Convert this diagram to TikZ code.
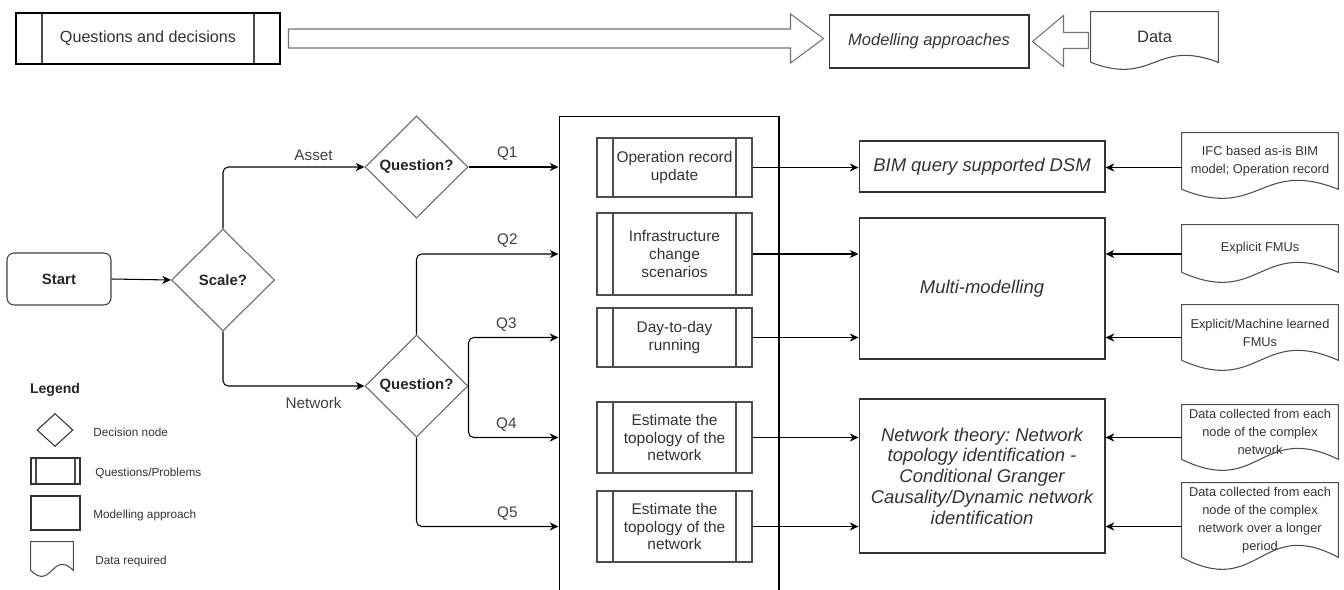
\documentclass[tikz,border=0pt]{standalone}
\usepackage{fontspec}
\setmainfont{Liberation Sans}
\usetikzlibrary{shapes.geometric,arrows.meta}
\frenchspacing

\begin{document}
\begin{tikzpicture}
[x=0.02cm, y=-0.02cm,
  lineDecorate/.style={line width=0.6pt},%
  arrowDecorate/.style={lineDecorate,-{Stealth[length=5pt,width=4.6pt]},rounded corners=3pt},%
  blockDecorate/.style={draw=black!55,lineDecorate,line join=miter},%
  startDecorate/.style={shape=rectangle,draw=black!75,lineDecorate,rounded corners=4pt,
    minimum width=2.08cm,minimum height=1.04cm,text=black!85,font=\fontsize{8.5}{10}\selectfont\bfseries},%
  decisionDecorate/.style={shape=diamond,draw=black!60,lineDecorate,inner sep=0pt,
    minimum width=2.06cm,minimum height=2.04cm,text=black!85,font=\fontsize{8.5}{10}\selectfont\bfseries},%
  questionDecorate/.style={shape=rectangle,draw=black!70,lineDecorate,fill=white,align=center,
    minimum width=3.1cm,text=black!80,font=\fontsize{8.8}{10.2}\selectfont,
    path picture={\draw[black!70,lineDecorate]
      ([xshift=#1]path picture bounding box.north west) -- ([xshift=#1]path picture bounding box.south west)
      ([xshift=-#1]path picture bounding box.north east) -- ([xshift=-#1]path picture bounding box.south east);}},%
  modelDecorate/.style={shape=rectangle,draw=black!80,lineDecorate,align=center,
    minimum width=4.92cm,text=black!80,font=\fontsize{10.5}{11.8}\selectfont\itshape},%
  dataDecorate/.style={shape=rectangle,align=center,inner sep=1pt,
    minimum width=3.12cm,text=black!80,font=\fontsize{7.3}{10.2}\selectfont},%
  waveDecorate/.style={draw=black!70,lineDecorate},%
  edgeLabel/.style={text=black!75,font=\fontsize{8.7}{10}\selectfont},%
  legendText/.style={anchor=west,inner sep=0pt,text=black!80,font=\fontsize{6.7}{8}\selectfont}]
\useasboundingbox (0,0) rectangle (1344,589);

%% top row
\node (decisions) at (148,38.5) [questionDecorate=0.52cm,draw=black,minimum width=5.28cm,
  minimum height=1.02cm,font=\fontsize{9.2}{11}\selectfont] {Questions and decisions};
\node (approaches) at (929,41.5) [modelDecorate,minimum width=4cm,minimum height=1.06cm,
  font=\fontsize{9.4}{11}\selectfont\itshape] {Modelling approaches};
\node (dataTop) at (1154.5,37) [dataDecorate,minimum width=2.54cm,minimum height=1cm,
  font=\fontsize{9.4}{11}\selectfont] {Data};
\draw[blockDecorate] (decisions.east) ++(8,-9.5) -- ++(502,0) -- ++(0,-15) -- ++(33,24.5)
  -- ++(-33,24.5) -- ++(0,-15) -- ++(-502,0) -- cycle;
\draw[blockDecorate] (approaches.east) ++(3,0) -- ++(31,-26) -- ++(0,17) -- ++(25,0)
  -- ++(0,16) -- ++(-25,0) -- ++(0,18) -- cycle;

%% decisions
\node (start) at (59,279) [startDecorate] {Start};
\node (scale) at (223,280) [decisionDecorate] {Scale?};
\node (askAsset) at (416.5,167) [decisionDecorate] {Question?};
\node (askNet) at (416.5,386) [decisionDecorate] {Question?};

%% frame round the questions
\node (frame) at (669,368) [draw,lineDecorate,minimum width=4.4cm,minimum height=10.08cm] {};

%% questions
\foreach \nodename/\nodelabel/\y/\h in {
  opRecord/{Operation record\\update}/167.5/1.18cm,
  infraChange/{Infrastructure\\change\\scenarios}/254/1.64cm,
  dayRun/{Day-to-day\\running}/337.5/1.18cm,
  topoOne/{Estimate the\\topology of the\\network}/437.5/1.42cm,
  topoTwo/{Estimate the\\topology of the\\network}/526.5/1.42cm}
{
  \node (\nodename) at (674.5,\y) [questionDecorate=0.32cm,minimum height=\h] {\nodelabel};
}

%% modelling approaches
\foreach \nodename/\nodelabel/\y/\h in {
  bimQuery/{BIM query supported DSM}/166.5/1.02cm,
  multiModel/{Multi-modelling}/288.5/2.82cm,
  netTheory/{Network theory: Network\\topology identification -\\Conditional Granger\\Causality/Dynamic network\\identification}/476/3.08cm}
{
  \node (\nodename) at (982,\y) [modelDecorate,minimum height=\h] {\nodelabel};
}

%% data required
\foreach \nodename/\nodelabel/\y/\h in {
  ifcData/{IFC based as-is BIM\\model; Operation record}/161/1.12cm,
  fmuData/{Explicit FMUs}/248.5/0.94cm,
  mlData/{Explicit/Machine learned\\FMUs}/332.5/1.1cm,
  nodeData/{Data collected from each\\node of the complex\\network}/432/1.08cm,
  longData/{Data collected from each\\node of the complex\\network over a longer\\period}/520/1.48cm}
{
  \node (\nodename) at (1260,\y) [dataDecorate,minimum height=\h] {\nodelabel};
}

%% legend
\node (legendTitle) at (55,390) [text=black!85,font=\fontsize{8}{10}\selectfont\bfseries] {Legend};
\node (legDec) at (55,430) [decisionDecorate,draw=black!80,minimum width=0.72cm,minimum height=0.66cm] {};
\node (legQue) at (55.5,471) [questionDecorate=0.1cm,draw=black!80,minimum width=0.98cm,minimum height=0.52cm] {};
\node (legMod) at (55.5,513) [modelDecorate,minimum width=0.98cm,minimum height=0.68cm] {};
\node (legData) at (52,556) [dataDecorate,minimum width=0.84cm,minimum height=0.56cm] {};
\foreach \nodename/\nodelabel/\x/\y in {
  legDec/Decision node/93/432, legQue/{Questions/Problems}/95/473,
  legMod/Modelling approach/93/515, legData/Data required/95/561}
{
  \node (\nodename-text) at (\x,\y) [legendText] {\nodelabel};
}

%% document outlines with the wavy bottom
\foreach \nodename/\w/\e in {
  ifcData/156/9, fmuData/156/10, mlData/156/10, nodeData/156/11, longData/156/12,
  dataTop/127/7, legData/42/6}
{
  \draw[waveDecorate] (\nodename.south west) -- (\nodename.north west) -- (\nodename.north east)
    -- (\nodename.south east) .. controls +(-\w/2,-3.46*\e) and +(\w/2,3.46*\e) .. (\nodename.south west);
}

%% edges or lines
\draw[arrowDecorate] (start.east) -- (scale.west);
\draw[arrowDecorate] (scale.north) |- (askAsset.west) node[edgeLabel,pos=0.82,above] {Asset};
\draw[arrowDecorate] (scale.south) |- (askNet.west) node[edgeLabel,pos=0.82,below=3pt] {Network};
\draw[arrowDecorate] (askAsset.east) -- (askAsset.east -| frame.west) node[edgeLabel,pos=0.43,above] {Q1};
\draw[arrowDecorate] (askNet.north) |- (frame.west |- infraChange.west) node[edgeLabel,pos=0.82,above] {Q2};
\draw[arrowDecorate] (askNet.east) |- (frame.west |- dayRun.west) node[edgeLabel,pos=0.71,above] {Q3};
\draw[arrowDecorate] (askNet.east) |- (frame.west |- topoOne.west) node[edgeLabel,pos=0.71,above] {Q4};
\draw[arrowDecorate] (askNet.south) |- (frame.west |- topoTwo.west) node[edgeLabel,pos=0.82,above] {Q5};
\foreach \startnode/\endnode in {
  opRecord/bimQuery, infraChange/multiModel, dayRun/multiModel, topoOne/netTheory, topoTwo/netTheory}
{
  \draw[arrowDecorate] (\startnode.east) -- (\startnode.east -| \endnode.west);
}
\foreach \startnode/\level/\endnode in {
  ifcData/opRecord/bimQuery, fmuData/infraChange/multiModel, mlData/dayRun/multiModel,
  nodeData/topoOne/netTheory, longData/topoTwo/netTheory}
{
  \draw[arrowDecorate] (\startnode.west |- \level.east) -- (\endnode.east |- \level.east);
}
\end{tikzpicture}
\end{document}
